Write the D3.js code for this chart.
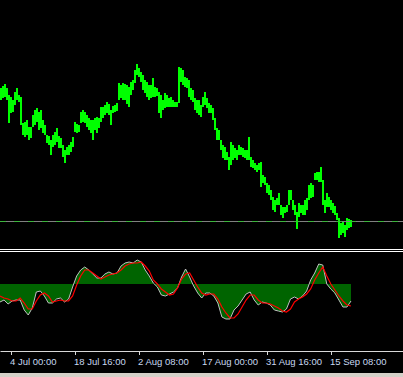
<!DOCTYPE html>
<html>
<head>
<meta charset="utf-8">
<script src="https://cdn.jsdelivr.net/npm/d3@7"></script>
<style>
  html, body { margin: 0; padding: 0; background: #000; }
  svg { display: block; }
</style>
</head>
<body>
<div id="app"></div>
<script>
var width = 403;
var height = 377;

// price bars, one entry per two H4 bars
var barHigh = [212,214,216,212,205,203,200,208,212,205,203,177,178,180,173,173,185,190,192,188,
  190,180,175,165,164,160,165,168,172,164,162,155,150,153,155,158,163,178,176,175,
  188,190,188,185,182,180,180,182,183,182,193,193,195,198,196,190,194,195,197,217,
  215,217,216,215,213,218,220,230,236,232,228,225,220,218,215,215,222,213,212,208,
  205,200,207,205,202,203,200,198,198,233,232,230,223,222,220,212,210,202,200,200,
  195,203,208,202,197,195,192,182,172,170,160,155,153,148,143,158,155,152,150,155,
  153,152,150,150,163,143,140,137,135,137,138,125,123,117,115,110,103,100,102,107,
  95,93,93,95,110,110,100,95,88,97,95,95,100,102,115,117,115,127,128,128,
  133,120,100,107,103,100,97,94,87,82,77,78,75,82,81,80];
var barLow = [200,202,203,200,177,187,188,195,200,198,175,165,163,165,160,162,173,175,178,170,
  172,167,165,157,155,145,153,155,158,152,152,143,137,145,145,148,153,168,167,168,
  177,178,177,173,170,167,160,170,167,172,178,182,185,187,185,175,187,188,189,200,
  202,200,200,196,193,205,210,217,225,223,218,210,207,203,200,202,203,203,204,187,
  182,190,192,193,193,193,193,193,193,197,218,215,213,212,203,200,198,190,187,185,
  183,193,195,192,187,187,180,170,160,160,150,142,140,140,130,135,140,142,140,145,
  145,143,142,140,140,133,132,130,128,130,113,117,115,107,105,100,90,88,95,95,
  85,82,87,88,95,100,90,85,71,83,87,85,85,90,100,102,103,120,120,118,
  118,95,87,93,93,90,87,85,80,62,65,67,63,70,72,73];
var bidPrice = 79;

// oscillator, one entry per four H4 bars
var oscMain = [-18,-16,-20,-17,-16,-16,-26,-31,-24,-8,-7,-12,-19,-19,-15,-14,-18,-15,-3,8,
  14,17,14,10,6,6,10,12,10,11,18,21,22,21,24,22,14,8,1,-3,
  -11,-12,-10,-8,-4,7,15,7,-2,-9,-14,-9,-9,-12,-19,-33,-35,-35,-26,-22,
  -16,-10,-8,-16,-21,-18,-19,-21,-26,-27,-28,-25,-15,-13,-15,-12,-7,4,11,20,
  19,0,-5,-9,-16,-23,-23,-17];
var oscSignal = [-12,-14,-15,-17,-17,-14,-19,-25,-25,-17,-11,-9,-12,-18,-17,-16,-17,-17,-12,-1,
  8,14,14,11,8,5,7,9,10,11,14,18,20,21,21,22,18,13,4,0,
  -5,-8,-11,-10,-4,5,10,11,4,-3,-9,-11,-10,-10,-15,-23,-29,-34,-34,-30,
  -23,-16,-11,-11,-16,-19,-19,-20,-22,-24,-27,-28,-25,-18,-15,-13,-10,-5,4,11,
  17,8,0,-6,-12,-17,-21,-22];

// time axis
var tickBars = [11, 75, 139, 203, 267, 331];
var tickLabels = ["4 Jul 00:00", "18 Jul 16:00", "2 Aug 08:00", "17 Aug 00:00", "31 Aug 16:00", "15 Sep 08:00"];

var svg = d3.select("#app").append("svg")
    .attr("width", width)
    .attr("height", height);

svg.append("rect").attr("width", width).attr("height", height).attr("fill", "#000");

var x = d3.scaleLinear().domain([0, 403]).range([0, 403]);
var xOsc = d3.scaleLinear().domain([0, oscMain.length - 1]).range([x(0), x(351)]);
var yPrice = d3.scaleLinear().domain([52, 300]).range([248, 0]);
var yOsc = d3.scaleLinear().domain([-66, 32]).range([350, 252]);

// price bars
var bars = svg.append("g").attr("shape-rendering", "crispEdges");
bars.selectAll("rect")
    .data(barHigh)
    .enter().append("rect")
    .attr("x", function(d, i) { return x(i * 2); })
    .attr("width", function(d, i) { return x(i * 2 + 2) - x(i * 2); })
    .attr("y", function(d) { return yPrice(d); })
    .attr("height", function(d, i) { return Math.max(1, yPrice(barLow[i]) - yPrice(d)); })
    .attr("fill", "#00ff00");

// bid line
var bidY = Math.round(yPrice(bidPrice)) + 0.5;
svg.append("line")
    .attr("x1", 0).attr("x2", width).attr("y1", bidY).attr("y2", bidY)
    .attr("stroke", "#808080");
svg.append("line")
    .attr("x1", 0).attr("x2", width).attr("y1", bidY).attr("y2", bidY)
    .attr("stroke", "#3cb43c")
    .attr("stroke-dasharray", "6,8");

// panel separator
[249.5, 251.5].forEach(function(yy) {
    svg.append("line")
        .attr("x1", 0).attr("x2", width).attr("y1", yy).attr("y2", yy)
        .attr("stroke", "#ffffff");
});

// oscillator
var oscX = function(d, i) { return xOsc(i); };
var area = d3.area().x(oscX).y0(yOsc(0)).y1(function(d) { return yOsc(d); });
var line = d3.line().x(oscX).y(function(d) { return yOsc(d); });

svg.append("path").datum(oscMain)
    .attr("d", area)
    .attr("fill", "#006400");
svg.append("path").datum(oscMain)
    .attr("d", line)
    .attr("fill", "none")
    .attr("stroke", "#c0c0c0")
    .attr("stroke-width", 1);
svg.append("path").datum(oscSignal)
    .attr("d", line)
    .attr("fill", "none")
    .attr("stroke", "#ff0000")
    .attr("stroke-width", 1.2);

// time axis
var axis = d3.axisBottom(x)
    .tickValues(tickBars)
    .tickFormat(function(d, i) { return tickLabels[i]; })
    .tickSizeInner(4)
    .tickSizeOuter(0);

var gAxis = svg.append("g")
    .attr("transform", "translate(0,351)")
    .call(axis);
gAxis.select(".domain").attr("stroke", "#d8d8d8");
gAxis.selectAll(".tick line").attr("stroke", "#d8d8d8");
gAxis.selectAll(".tick text")
    .attr("text-anchor", "start")
    .attr("dx", -1.5)
    .attr("fill", "#c8d8f0")
    .style("font-family", "'Liberation Sans', Arial, sans-serif")
    .style("font-size", "9.5px");

// bottom frame
svg.append("rect")
    .attr("x", 0).attr("y", 373).attr("width", width).attr("height", 4)
    .attr("fill", "#d4d0c8");
</script>
</body>
</html>
